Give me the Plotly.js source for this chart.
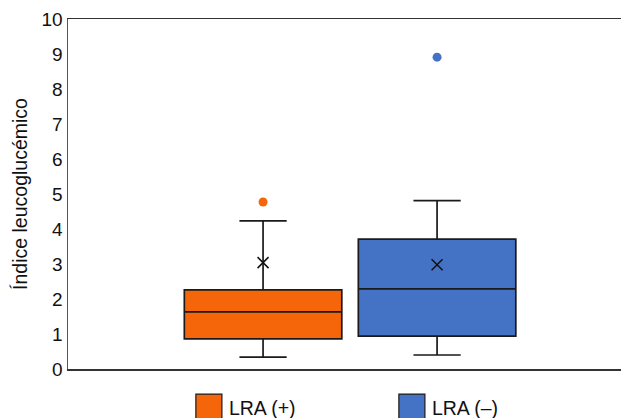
<!DOCTYPE html>
<html><head><meta charset="utf-8">
<script src="https://cdn.plot.ly/plotly-3.0.1.min.js"></script>
<style>html,body{margin:0;padding:0;background:#fff}</style>
</head><body><div id="chart" style="width:621px;height:418px"></div>
<script>
// Data
const groups = ["LRA (+)", "LRA (–)"];
const lowerWhisker = [0.34, 0.40];
const q1 = [0.86, 0.94];
const median = [1.63, 2.29];
const q3 = [2.26, 3.71];
const upperWhisker = [4.23, 4.81];
const means = [3.04, 2.98];
const outliers = [[4.77], [8.91]];
const yTicks = [0, 1, 2, 3, 4, 5, 6, 7, 8, 9, 10];

const fills = ["#F5660A", "#4472C4"];
const FONT = "Liberation Sans, Arial, Helvetica, sans-serif";

const traces = [];
groups.forEach((g, i) => {
  traces.push({
    type: "box", name: g, x: [g],
    q1: [q1[i]], median: [median[i]], q3: [q3[i]],
    lowerfence: [lowerWhisker[i]], upperfence: [upperWhisker[i]],
    boxpoints: false, fillcolor: fills[i],
    line: {color: "#1a1a1a", width: 1.7},
    width: 0.905, whiskerwidth: 0.3, hoverinfo: "skip"
  });
});
traces.push({
  type: "scatter", mode: "markers", x: groups, y: means, showlegend: false,
  marker: {symbol: "x-thin-open", size: 11, color: "#111", line: {width: 1.5, color: "#111"}},
  hoverinfo: "skip"
});
groups.forEach((g, i) => {
  traces.push({
    type: "scatter", mode: "markers", x: outliers[i].map(() => g), y: outliers[i],
    showlegend: false, marker: {symbol: "circle", size: 9, color: fills[i]}, hoverinfo: "skip"
  });
});

const layout = {
  width: 621, height: 418,
  margin: {l: 68, r: 0, t: 19, b: 49, autoexpand: false},
  paper_bgcolor: "#fff", plot_bgcolor: "#fff",
  font: {family: FONT, size: 19, color: "#111"},
  showlegend: true,
  boxmode: "overlay",
  xaxis: {
    type: "category", categoryorder: "array", categoryarray: groups,
    range: [-1.121, 2.057], showticklabels: false, ticks: "",
    showgrid: false, zeroline: false, showline: true, mirror: true,
    linecolor: "#333", linewidth: 1.5, fixedrange: true
  },
  yaxis: {
    range: [0, 10], tickvals: yTicks, ticktext: yTicks.map(String),
    ticks: "", showgrid: false, zeroline: false, showline: true,
    linecolor: "#555", linewidth: 1.5,
    tickfont: {family: FONT, size: 19, color: "#111"},
    title: {text: "Índice leucoglucémico", font: {family: FONT, size: 19.5, color: "#111"}, standoff: 8},
    fixedrange: true
  },
  legend: {
    orientation: "h", x: 0.2186, y: -0.054, xanchor: "left", yanchor: "top",
    font: {family: FONT, size: 19.5, color: "#111"},
    entrywidth: 158, entrywidthmode: "pixels", bgcolor: "rgba(0,0,0,0)"
  }
};

Plotly.newPlot("chart", traces, layout, {staticPlot: true, displayModeBar: false}).then(() => {
  document.querySelectorAll(".legend path.legendbox").forEach(p => {
    const t = p.getAttribute("transform") || "";
    p.setAttribute("transform", t + " scale(2.17)");
    p.style.vectorEffect = "non-scaling-stroke";
    p.style.strokeWidth = "1.2px";
  });
});
</script>
</body></html>
